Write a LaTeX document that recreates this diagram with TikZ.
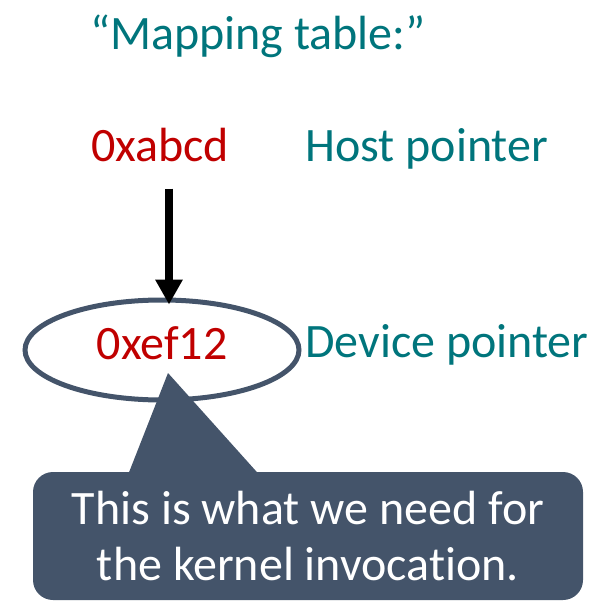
\documentclass[tikz,border=0pt]{standalone}
\usepackage{fontspec}
\setmainfont{Carlito}[Ligatures={TeX,NoCommon}]
\usepackage{xcolor}
\usetikzlibrary{arrows.meta,shapes.geometric}
\definecolor{slate}{HTML}{44546A}
\definecolor{addrred}{HTML}{C00000}
\definecolor{labelteal}{HTML}{00757C}
\tikzset{
  addrtext/.style  = {text=addrred,inner sep=0pt,font=\fontsize{48}{56}\selectfont},
  labeltext/.style = {text=labelteal,inner sep=0pt,font=\fontsize{48}{56}\selectfont},
  ptrarrow/.style  = {-{Triangle[length=25pt,width=26pt]},line width=8pt},
  calloutbox/.style= {fill=slate,text=white,rounded corners=20pt,align=center,
                      font=\fontsize{48}{56}\selectfont}
}
\begin{document}
\begin{tikzpicture}[x=1pt,y=-1pt]
  \useasboundingbox (0,0) rectangle (590,601);
  \node[labeltext,anchor=base] (title) at (258,50) {“Mapping table:”};
  % host side
  \node[addrtext,anchor=base] (hostaddr) at (160,162) {0xabcd};
  \node[labeltext,anchor=base west] (hostlabel) at (305,162) {Host pointer};
  % device side, circled
  \node[ellipse,draw=slate,line width=5pt,minimum width=274pt,minimum height=100pt,
        text=addrred,font=\fontsize{48}{56}\selectfont,inner sep=0pt,text depth=14pt] (devaddr) at (162,350) {0xef12};
  \node[labeltext,anchor=base west] (devlabel) at (305,357) {Device pointer};
  \draw[ptrarrow] ([xshift=9pt,yshift=-26pt]hostaddr.south) -- ([xshift=7pt,yshift=-7pt]devaddr.north);
  % speech bubble
  \node[calloutbox,minimum width=550pt,minimum height=128pt,inner sep=0pt] (callout) at (308,536)
    {This is what we need for\\the kernel invocation.};
  \coordinate (tip) at (168,373);
  \fill[slate] (126,480) -- (tip) -- (264,480) -- cycle;
\end{tikzpicture}
\end{document}
